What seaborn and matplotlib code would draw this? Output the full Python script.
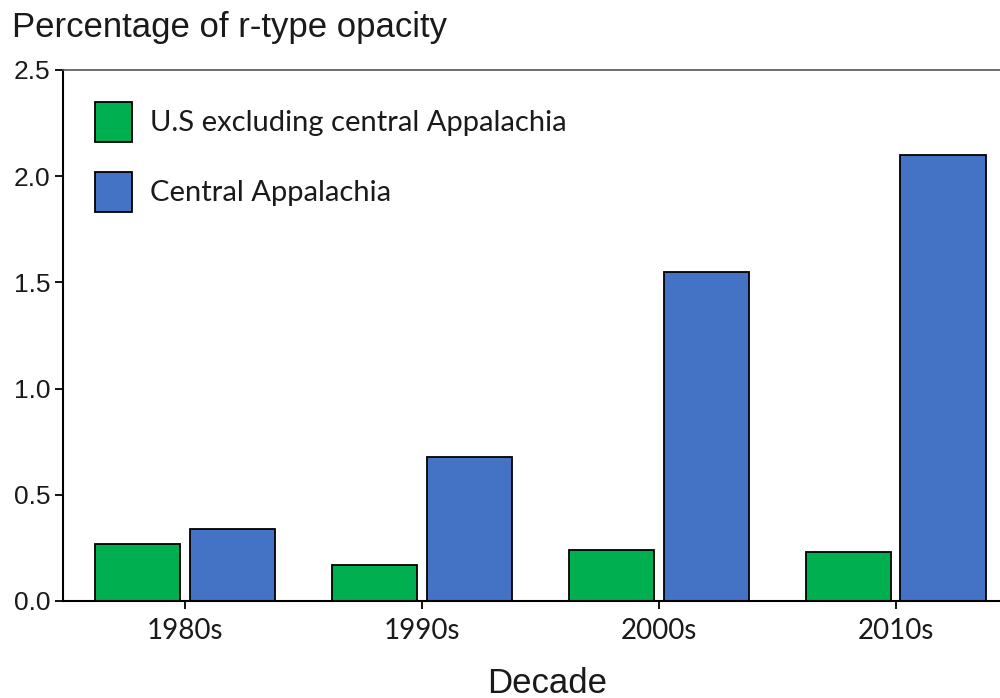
import matplotlib
matplotlib.use("Agg")
import matplotlib.pyplot as plt
import seaborn as sns
import pandas as pd

decades = ["1980s", "1990s", "2000s", "2010s"]
series_names = ["U.S excluding central Appalachia", "Central Appalachia"]
us_excl = [0.27, 0.17, 0.24, 0.23]
central_app = [0.34, 0.68, 1.55, 2.10]
y_ticks = [0.0, 0.5, 1.0, 1.5, 2.0, 2.5]

df = pd.DataFrame({
    "Decade": decades * 2,
    "Series": [series_names[0]] * 4 + [series_names[1]] * 4,
    "Value": us_excl + central_app,
})

sns.set_style("white")
plt.rcParams["font.family"] = ["Liberation Sans", "DejaVu Sans"]
plt.rcParams["text.color"] = "#1a1a1a"
plt.rcParams["xtick.color"] = "#1a1a1a"
plt.rcParams["ytick.color"] = "#1a1a1a"

fig = plt.figure(figsize=(10, 6.98), dpi=100)
ax = fig.add_axes([0.063, 1 - 601 / 698, 1.0 - 0.063, (601 - 70) / 698])

palette = {series_names[0]: "#00B050", series_names[1]: "#4472C4"}
sns.barplot(data=df, x="Decade", y="Value", hue="Series", order=decades,
            hue_order=series_names, palette=palette, width=0.8, gap=0.1,
            edgecolor="black", linewidth=1.3, saturation=1, ax=ax)

ax.set_xlim(-0.515, 3.44)
ax.set_ylim(0, 2.5)
ax.set_yticks(y_ticks)
ax.set_yticklabels([f"{v:.1f}" for v in y_ticks], fontsize=19,
                   family="Liberation Sans")
ax.set_xticks(range(len(decades)))
ax.set_xticklabels(decades, fontsize=20, family="Lato")
ax.set_xlabel("")
ax.set_ylabel("")

ax.tick_params(axis="both", which="major", direction="out", length=6,
               width=1.3, color="black", left=True, bottom=True)
ax.tick_params(axis="y", pad=3)
ax.tick_params(axis="x", pad=6)

for s in ["left", "bottom"]:
    ax.spines[s].set_color("black")
    ax.spines[s].set_linewidth(1.5)
ax.spines["top"].set_color("#555555")
ax.spines["top"].set_linewidth(1.2)
ax.spines["right"].set_visible(False)

leg = ax.legend(loc="upper left", bbox_to_anchor=(0.095, 1 - 102 / 698),
                bbox_transform=fig.transFigure, frameon=False,
                borderpad=0, borderaxespad=0, handlelength=1.27,
                handleheight=1.733, handletextpad=0.62, labelspacing=1.03,
                prop={"family": "Lato", "size": 21})
for h in leg.legend_handles:
    h.set_edgecolor("black")
    h.set_linewidth(1.3)

fig.text(0.012, 1 - 37 / 698, "Percentage of r-type opacity", fontsize=25,
         va="baseline", ha="left", family="Liberation Sans")
fig.text(0.547, 1 - 693 / 698, "Decade", fontsize=25, va="baseline",
         ha="center", family="Liberation Sans")

fig.savefig("out.png", dpi=100)
